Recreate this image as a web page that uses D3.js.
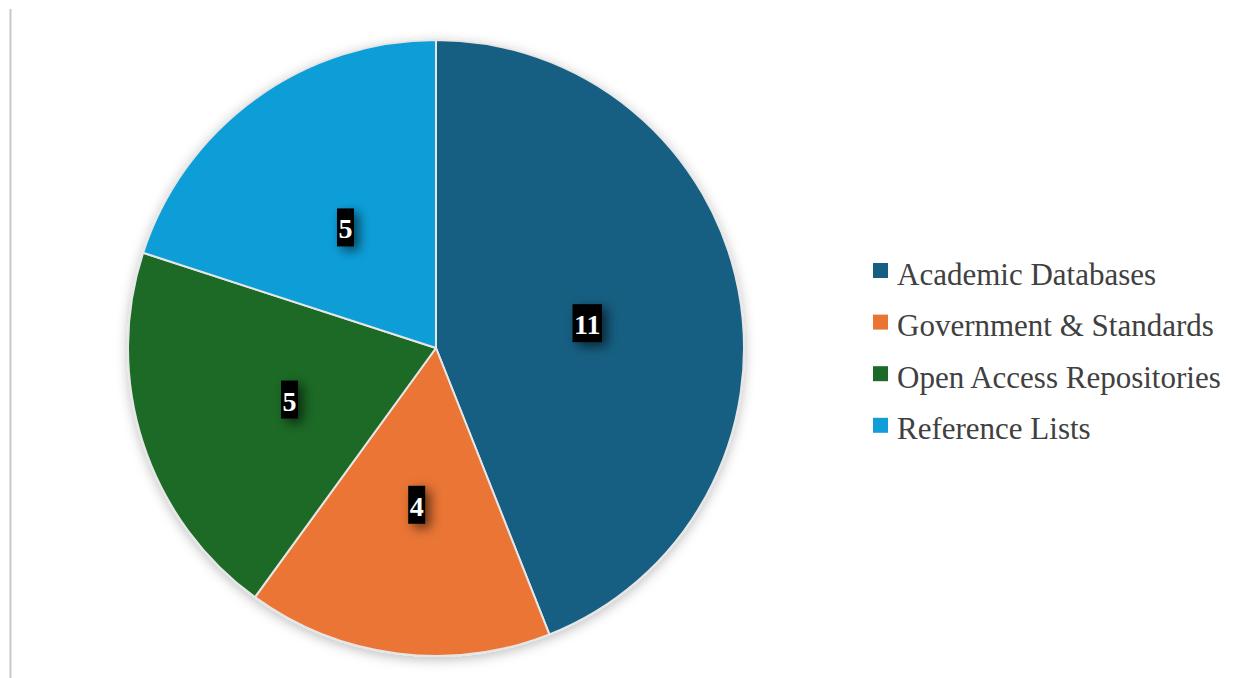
<!DOCTYPE html>
<html>
<head>
<meta charset="utf-8">
<script src="https://cdn.jsdelivr.net/npm/d3@7"></script>
<style>
  html, body { margin: 0; padding: 0; background: #ffffff; }
  svg { display: block; }
</style>
</head>
<body>
<svg id="chart" width="1245" height="678"></svg>
<script>
// Source counts by category
const categories = ["Academic Databases", "Government & Standards", "Open Access Repositories", "Reference Lists"];
const counts = [11, 4, 5, 5];
const colors = ["#165E82", "#EA7434", "#1B6A27", "#119ED8"];

const svg = d3.select("#chart");
const W = 1245, H = 678;
const cx = 436, cy = 348, radius = 308;
const serif = "'Liberation Serif', 'Times New Roman', serif";

const defs = svg.append("defs");
const pieShadow = defs.append("filter").attr("id", "pieShadow")
  .attr("x", "-20%").attr("y", "-20%").attr("width", "140%").attr("height", "140%");
pieShadow.append("feDropShadow").attr("dx", 0).attr("dy", 3)
  .attr("stdDeviation", 6).attr("flood-color", "#000").attr("flood-opacity", 0.25);

const labelShadow = defs.append("filter").attr("id", "labelShadow")
  .attr("x", "-100%").attr("y", "-60%").attr("width", "300%").attr("height", "220%");
labelShadow.append("feDropShadow").attr("dx", 5).attr("dy", 4)
  .attr("stdDeviation", 6).attr("flood-color", "#000").attr("flood-opacity", 0.6);

// thin frame line on the left edge
svg.append("line")
  .attr("x1", 10.5).attr("x2", 10.5).attr("y1", 9).attr("y2", H)
  .attr("stroke", "#c8c8c8").attr("stroke-width", 2);

const color = d3.scaleOrdinal().domain(categories).range(colors);

const pie = d3.pie().sort(null).value(d => d.value);
const data = categories.map((c, i) => ({ name: c, value: counts[i] }));
const arcs = pie(data);

const arc = d3.arc().innerRadius(0).outerRadius(radius);

const g = svg.append("g").attr("transform", `translate(${cx},${cy})`);

g.append("g").attr("filter", "url(#pieShadow)")
  .selectAll("path").data(arcs).join("path")
  .attr("d", arc)
  .attr("fill", d => color(d.data.name))
  .attr("stroke", "#e6e6e6")
  .attr("stroke-width", 2)
  .attr("stroke-linejoin", "round");

// value labels: white bold numbers on black boxes, baseline a little below the centroid
const labels = g.selectAll("g.lbl").data(arcs).join("g")
  .attr("class", "lbl")
  .attr("transform", d => {
    const [x, y] = arc.centroid(d);
    return `translate(${x},${y + 15})`;
  });

labels.each(function(d) {
  const sel = d3.select(this);
  const txt = sel.append("text")
    .attr("text-anchor", "middle")
    .attr("x", 0).attr("y", 0)
    .attr("font-family", serif)
    .attr("font-weight", "bold")
    .attr("font-size", 28)
    .attr("fill", "#ffffff")
    .text(d.data.value);
  const w = txt.node().getComputedTextLength() + 3;
  sel.insert("rect", "text")
    .attr("x", -w / 2).attr("y", -30)
    .attr("width", w).attr("height", 38)
    .attr("fill", "#000")
    .attr("filter", "url(#labelShadow)");
});

// legend
const legend = svg.append("g").attr("transform", "translate(873,0)");
const rowY = d3.scalePoint().domain(categories).range([284.5, 439.3]);
const items = legend.selectAll("g").data(categories).join("g")
  .attr("transform", d => `translate(0,${rowY(d)})`);
items.append("rect")
  .attr("x", 0).attr("y", -21.5).attr("width", 15).attr("height", 15)
  .attr("fill", d => color(d));
items.append("text")
  .attr("x", 24).attr("y", 0)
  .attr("font-family", serif)
  .attr("font-size", 31)
  .attr("fill", "#404040")
  .text(d => d);
</script>
</body>
</html>
